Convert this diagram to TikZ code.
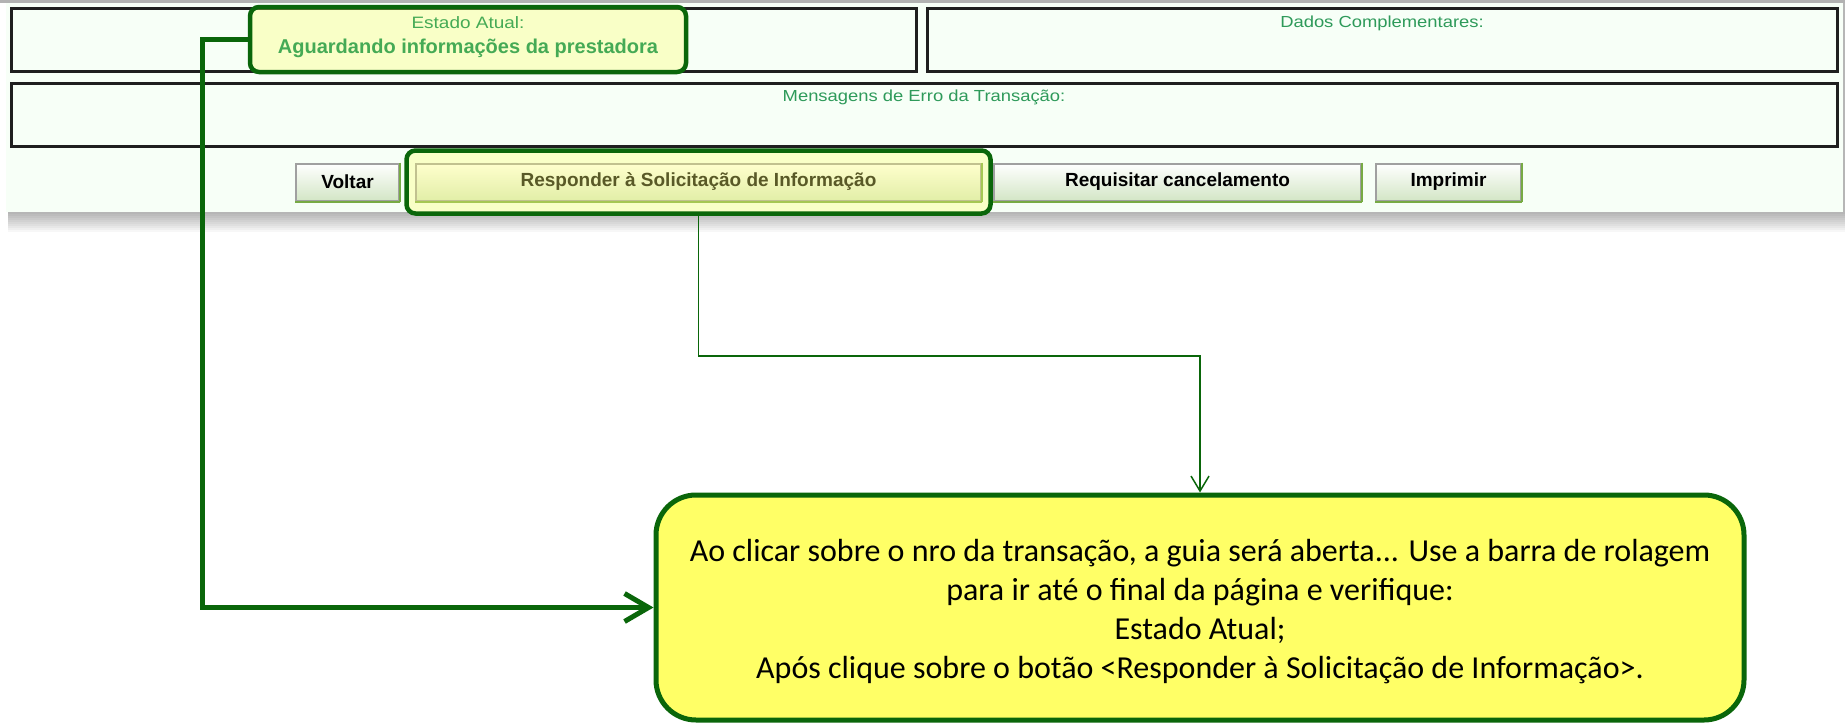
\documentclass[tikz,border=0pt]{standalone}
\usepackage{fontspec}
\setmainfont{Carlito}
\newfontfamily\telafont[FakeStretch=1.15]{Liberation Sans}
\newfontfamily\botaofont{Liberation Sans}
\usepackage{tikz}
\usetikzlibrary{arrows.meta,positioning}
\tikzset{>/.tip={Straight Barb[length=24pt,width=28pt]}}
\tikzset{fino/.tip={Straight Barb[length=15pt,width=18pt]}}
\definecolor{fundoTela}{HTML}{F7FFF7}
\definecolor{verdeEscuro}{HTML}{0A660A}
\definecolor{verdeTexto}{HTML}{2E9A5A}
\definecolor{verdeEstado}{HTML}{45AA55}
\definecolor{amareloNota}{HTML}{FFFF66}
\definecolor{amareloRealce}{HTML}{FFFF70}
\definecolor{botaoBase}{HTML}{D3E6C6}
\definecolor{bordaCinza}{HTML}{A0A0A0}
\definecolor{bordaVerde}{HTML}{77AA44}
\tikzset{
  caixa/.style={draw=black!88,line width=3pt,fill=fundoTela,inner sep=0pt,minimum height=63pt},
  textoTela/.style={font=\telafont\fontsize{16}{18}\selectfont,text=verdeTexto,inner sep=0pt},
  botao/.style={draw=bordaCinza,line width=2pt,top color=white,bottom color=botaoBase,
    minimum height=37pt,inner sep=0pt,font=\botaofont\bfseries\fontsize{19}{19}\selectfont,
    append after command={(\tikzlastnode.north east) edge[draw=bordaVerde,line width=2pt] (\tikzlastnode.south east)
      (\tikzlastnode.south east) edge[draw=bordaVerde,line width=2pt] (\tikzlastnode.south west)}},
  realce/.style={draw=verdeEscuro,line width=4.5pt,rounded corners=9pt,fill=amareloRealce,
    fill opacity=0.35,text opacity=1,inner sep=0pt},
  nota/.style={draw=verdeEscuro,line width=5pt,rounded corners=40pt,fill=amareloNota,
    align=center,font=\fontsize{32}{39}\selectfont},
  linhaGrossa/.style={->,draw=verdeEscuro,line width=5pt},
  linhaFina/.style={-fino,draw=verdeEscuro,line width=1.5pt}
}

\begin{document}
\begin{tikzpicture}[x=1pt,y=-1pt,node distance=12pt]
  \useasboundingbox[fill=white] (0,0) rectangle (1845,723);
  % sombra e fundo da tela
  \foreach \i in {1,...,10}
    \fill[black,opacity=0.03] (8,2) rectangle (1845,212+2*\i);
  \fill[fundoTela] (6,0) rectangle (1843,212);
  \fill[black!30] (0,0) rectangle (1845,3);

  \node[caixa,minimum width=905pt](CxEstado) at (463.5,39.5){};
  \node[caixa,minimum width=910pt](CxDados) at (1382,39.5){};
  \node[caixa,minimum width=1826pt](CxErro) at (924,114.5){};
  \node[textoTela,anchor=base](Dados) at (1382,27){Dados Complementares:};
  \node[textoTela,anchor=base](Erro) at (924,101){Mensagens de Erro da Transação:};

  \node[botao,minimum width=103pt](Voltar) at (347.5,182){Voltar};
  \node[botao,minimum width=565pt,right=15pt of Voltar](Resp){Responder à Solicitação de Informação};
  \node[botao,minimum width=367pt,right=11pt of Resp](Canc){Requisitar cancelamento};
  \node[botao,minimum width=145pt,right=13pt of Canc](Impr){Imprimir};

  \node[realce,minimum width=584pt,minimum height=63pt](RespDest) at (Resp){};
  \node[realce,minimum width=436pt,minimum height=65pt,align=center,
    font=\fontsize{20}{25}\selectfont,text=verdeEstado](EstAt) at (468,39.5)
    {{\telafont\fontsize{16.5}{25}\selectfont Estado Atual:}\\
     {\botaofont\bfseries Aguardando informações da prestadora}\rule[-9pt]{0pt}{0pt}};

  \node[nota,minimum width=1088pt,minimum height=225pt](Nota) at (1200,607.5)
    {\rule{0pt}{30pt}Ao clicar sobre o nro da transação, a guia será aberta... Use a barra de rolagem\\
     para ir até o final da página e verifique:\\
     Estado Atual;\\
     Após clique sobre o botão <Responder à Solicitação de Informação>.};

  \draw[linhaGrossa] (EstAt.west) -- ++(-45,0) |- (Nota.west);
  \draw[linhaFina] (RespDest.south) -- ++(0,140) -| (Nota.north);
\end{tikzpicture}
\end{document}
